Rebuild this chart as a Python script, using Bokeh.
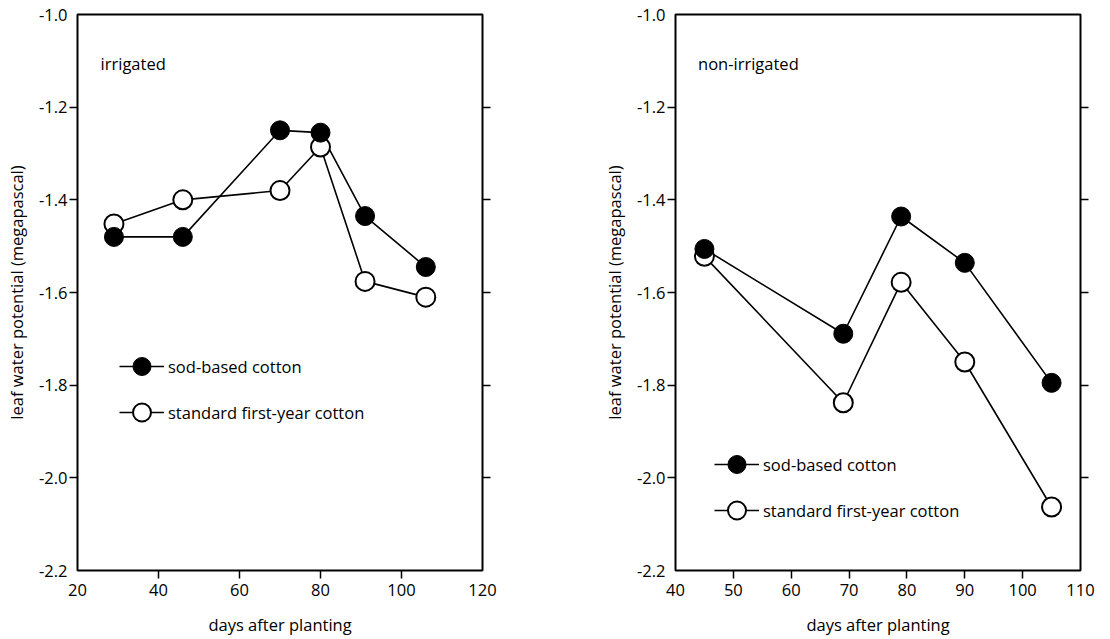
from bokeh.plotting import figure
from bokeh.layouts import row
from bokeh.models import (FixedTicker, PrintfTickFormatter, LinearAxis, Legend,
                          LegendItem, Label, Range1d)
from bokeh.embed import file_html
from bokeh.resources import INLINE

FONT = "Open Sans"
FS = "16.5px"

# irrigated
irr_days_sod = [29, 46, 70, 80, 91, 106]
irr_sod = [-1.48, -1.48, -1.25, -1.255, -1.435, -1.545]
irr_days_std = [29, 46, 70, 80, 91, 106]
irr_std = [-1.452, -1.40, -1.38, -1.286, -1.576, -1.61]

# non-irrigated
non_days_sod = [45, 69, 79, 90, 105]
non_sod = [-1.506, -1.689, -1.436, -1.536, -1.795]
non_days_std = [45, 69, 79, 90, 105]
non_std = [-1.522, -1.838, -1.578, -1.75, -2.063]

y_ticks = [-2.2, -2.0, -1.8, -1.6, -1.4, -1.2, -1.0]
x_ticks_irr = [20, 40, 60, 80, 100, 120]
x_ticks_non = [40, 50, 60, 70, 80, 90, 100, 110]

label_sod = "sod-based cotton"
label_std = "standard first-year cotton"
ylab = "leaf water potential (megapascal)"
xlab = "days after planting"


def make(xs_sod, ys_sod, xs_std, ys_std, xticks, title, border_left, border_right,
         legend_loc, panel_x):
    p = figure(frame_width=405, frame_height=556, output_backend="svg",
               toolbar_location=None, min_border_left=border_left,
               min_border_right=border_right, min_border_top=14, min_border_bottom=69,
               x_range=Range1d(xticks[0], xticks[-1]),
               y_range=Range1d(y_ticks[0], y_ticks[-1]))
    p.grid.visible = False
    p.outline_line_color = "black"
    p.outline_line_width = 2
    p.background_fill_color = "white"
    p.border_fill_color = "white"

    for ax, ticks, fmt in ((p.xaxis[0], xticks, "%d"), (p.yaxis[0], y_ticks, "%.1f")):
        ax.ticker = FixedTicker(ticks=ticks, minor_ticks=ticks[1:-1])
        ax.formatter = PrintfTickFormatter(format=fmt)
        ax.axis_line_color = None
        ax.major_tick_out = 0
        ax.major_tick_in = 0
        ax.minor_tick_out = 8
        ax.minor_tick_in = 0
        ax.minor_tick_line_color = "black"
        ax.minor_tick_line_width = 1.5
        ax.major_label_text_font = FONT
        ax.major_label_text_font_size = FS
        ax.major_label_text_color = "black"
        ax.axis_label_text_font = FONT
        ax.axis_label_text_font_size = FS
        ax.axis_label_text_font_style = "normal"
        ax.axis_label_text_color = "black"
    p.xaxis[0].axis_label = xlab
    p.xaxis[0].major_label_standoff = 5
    p.xaxis[0].axis_label_standoff = 14
    p.yaxis[0].axis_label = ylab
    p.yaxis[0].major_label_standoff = 2
    p.yaxis[0].axis_label_standoff = 8

    rax = LinearAxis(ticker=FixedTicker(ticks=[], minor_ticks=y_ticks[1:-1]))
    rax.axis_line_color = None
    rax.major_tick_out = 0
    rax.minor_tick_out = 8
    rax.minor_tick_in = 0
    rax.minor_tick_line_width = 1.5
    rax.major_label_text_font_size = "0px"
    p.add_layout(rax, "right")

    l_std = p.line(xs_std, ys_std, line_color="black", line_width=1.6)
    l_sod = p.line(xs_sod, ys_sod, line_color="black", line_width=1.6)
    s_std = p.scatter(xs_std, ys_std, size=19, fill_color="white", line_color="black",
                      line_width=2)
    s_sod = p.scatter(xs_sod, ys_sod, size=19, fill_color="black", line_color="black",
                      line_width=1)

    legend = Legend(items=[LegendItem(label=label_sod, renderers=[l_sod, s_sod]),
                           LegendItem(label=label_std, renderers=[l_std, s_std])],
                    location=legend_loc, glyph_width=45, glyph_height=46,
                    label_standoff=4, spacing=-1, padding=0, margin=0,
                    border_line_alpha=0, background_fill_alpha=0,
                    label_text_font=FONT, label_text_font_size=FS,
                    label_text_color="black")
    p.add_layout(legend, "center")

    p.add_layout(Label(x=panel_x, y=-1.106, text=title, text_font=FONT,
                       text_font_size=FS, text_baseline="middle",
                       text_color="black"))
    return p


p1 = make(irr_days_sod, irr_sod, irr_days_std, irr_std, x_ticks_irr, "irrigated",
          77, 73, (42, 135), 25.7)
p2 = make(non_days_sod, non_sod, non_days_std, non_std, x_ticks_non, "non-irrigated",
          120, 30, (39, 37), 43.9)

layout = row(p1, p2)
open("out.html", "w").write(file_html(layout, INLINE))
